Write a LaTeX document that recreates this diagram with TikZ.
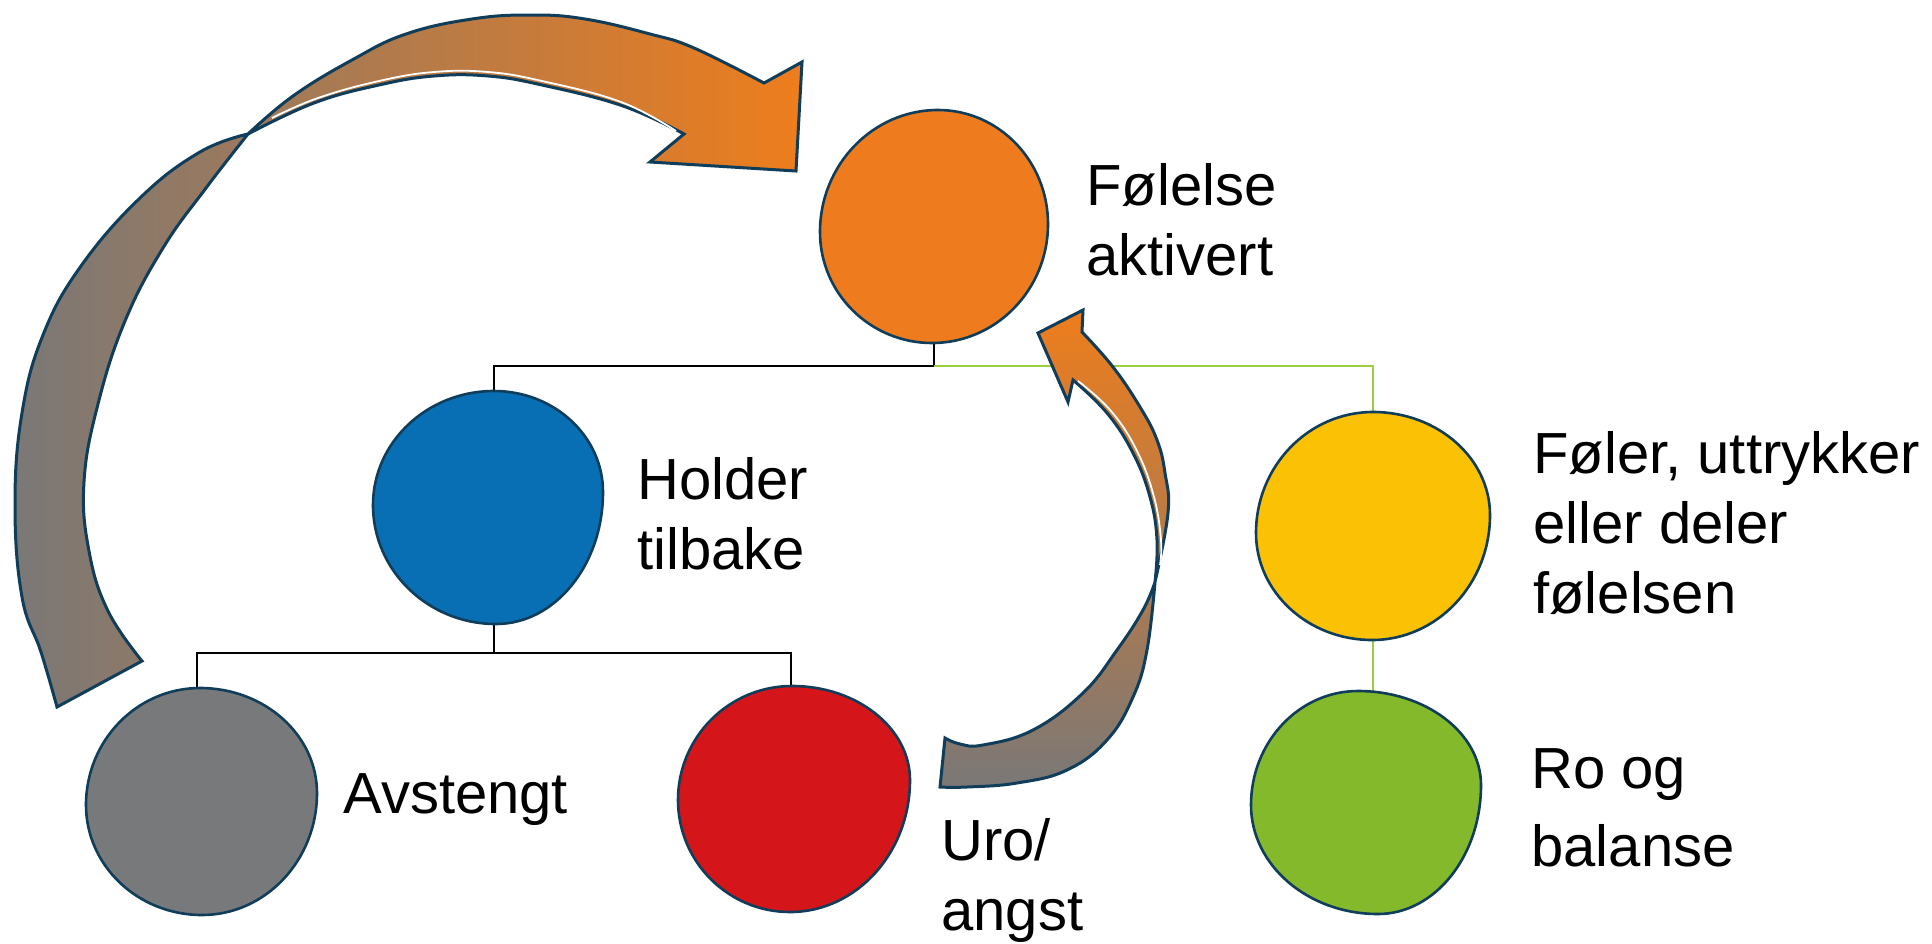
\documentclass[tikz,border=0pt]{standalone}
\usepackage{fontspec}
\setmainfont{Liberation Sans}
\definecolor{cOrange}{RGB}{238,124,30}
\definecolor{cBlue}{RGB}{9,111,180}
\definecolor{cGray}{RGB}{120,121,123}
\definecolor{cRed}{RGB}{212,22,27}
\definecolor{cYellow}{RGB}{251,193,5}
\definecolor{cGreen}{RGB}{132,185,44}
\definecolor{cEdge}{RGB}{16,62,90}
\definecolor{cLine}{RGB}{155,207,64}
\definecolor{aGray}{RGB}{122,120,119}
\definecolor{aOrange}{RGB}{238,125,28}
% #1 fill, (#2,#3) top, (#4,#5) right, (#6,#7) bottom, (#8,#9) left
\newcommand\myblob[9]{%
  \filldraw[blob,fill=#1] (#2,#3)
   .. controls ({#2+0.552*(#4-#2)},#3) and (#4,{#5-0.552*(#5-#3)}) .. (#4,#5)
   .. controls (#4,{#5+0.552*(#7-#5)}) and ({#6+0.552*(#4-#6)},#7) .. (#6,#7)
   .. controls ({#6-0.552*(#6-#8)},#7) and (#8,{#9+0.552*(#7-#9)}) .. (#8,#9)
   .. controls (#8,{#9-0.552*(#9-#3)}) and ({#2-0.552*(#2-#8)},#3) .. cycle;}
\begin{document}
\begin{tikzpicture}[x=0.5pt,y=-0.5pt,
  blob/.style={draw=cEdge,line width=1.3pt},
  tree/.style={draw=black,line width=1.2pt},
  treeg/.style={draw=cLine,line width=1.2pt},
  band/.style={draw=cEdge,line width=1.5pt,line join=miter},
  shine/.style={draw=white,line width=0.9pt},
  lbl/.style={anchor=base west,inner sep=0pt,align=left,font=\fontsize{29}{35}\selectfont}]
\useasboundingbox[fill=white] (0,0) rectangle (1932,943);

% anchor points of the blobs
\coordinate (FoB) at (934,343);
\coordinate (HoT) at (494,391);
\coordinate (HoB) at (494,624);
\coordinate (AvT) at (197,688);
\coordinate (UrT) at (791,686);
\coordinate (FeT) at (1373,412);
\coordinate (FeB) at (1373,640);
\coordinate (RoT) at (1373,691);
\coordinate (J1) at (934,366);
\coordinate (J2) at (494,653);

% connectors
\draw[tree] (FoB) -- (J1) -| (HoT);
\draw[treeg] (J1) -| (FeT);
\draw[tree] (HoB) -- (J2);
\draw[tree] (J2) -| (AvT);
\draw[tree] (J2) -| (UrT);
\draw[treeg] (FeB) -- (RoT);

% blobs
\myblob{cOrange}{938}{110}{1048}{224}{932}{343}{820}{232}
\myblob{cBlue}{494}{391}{603}{492}{496}{624}{373}{505}
\myblob{cGray}{200}{688}{317}{793}{202}{915}{86}{805}
\myblob{cRed}{792}{686}{910}{780}{790}{912}{678}{800}
\myblob{cYellow}{1373}{412}{1490}{515}{1372}{640}{1256}{533}
\myblob{cGreen}{1358}{691}{1481}{785}{1378}{914}{1251}{805}

% big curved arrow
\shadedraw[band,left color=aGray,right color=aOrange]
  plot[smooth,tension=0.7] coordinates {(57,707) (41,652) (22,597) (15,505) (22,413) (43,335) (81,266) (141,197) (200,152) (248,134)}
  -- plot[smooth,tension=0.7] coordinates {(248,134) (293,96) (352,60) (406,34) (472,19) (531,15) (585,19) (650,34) (694,48) (764,83)}
  -- (802,62) -- (796,171) -- (650,162) -- (684,134)
  -- plot[smooth,tension=0.7] coordinates {(684,134) (623,106) (542,85) (488,76) (434,76) (379,85) (314,103) (248,134)}
  -- plot[smooth,tension=0.7] coordinates {(248,134) (206,188) (163,248) (125,321) (98,404) (84,482) (89,551) (108,611) (142,661)}
  -- cycle;
\draw[shine] plot[smooth,tension=0.7] coordinates {(676,131) (621,102) (542,81) (488,72) (434,72) (379,81) (318,98) (272,118)};

% small curved arrow
\shadedraw[band,top color=aOrange,bottom color=aGray]
  plot[smooth,tension=0.7] coordinates {(940,787) (967,787) (1017,783) (1067,770) (1107,740) (1133,697) (1147,650) (1155,582)}
  -- plot[smooth,tension=0.7] coordinates {(1155,582) (1168,513) (1165,473) (1157,440) (1140,407) (1113,367) (1082,332)}
  -- (1083,310) -- (1038,333) -- (1068,402) -- (1073,380)
  -- plot[smooth,tension=0.7] coordinates {(1073,380) (1107,413) (1133,453) (1150,497) (1157,540) (1155,582)}
  -- plot[smooth,tension=0.7] coordinates {(1155,582) (1143,610) (1117,650) (1083,693) (1033,730) (983,745) (960,744) (945,738)}
  -- cycle;
\draw[shine] plot[smooth,tension=0.7] coordinates {(1078,381) (1111,411) (1137,451) (1154,497) (1161,540) (1160,565)};

% labels (anchored at the baseline of their last line)
\node[lbl] (tFo) at (1086,275) {Følelse\\aktivert};
\node[lbl] (tHo) at (637,569) {Holder\\tilbake};
\node[lbl] (tAv) at (343,813) {Avstengt};
\node[lbl] (tUr) at (941,930) {Uro/\\angst};
\node[lbl] (tFe) at (1533,613) {Føler, uttrykker\\eller deler\\følelsen};
\node[lbl] (tRo) at (1531,866) {Ro og\\[4pt]balanse};
\end{tikzpicture}
\end{document}
